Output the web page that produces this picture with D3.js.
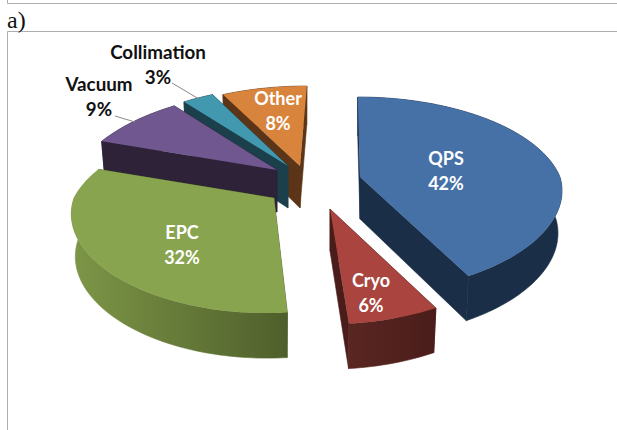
<!DOCTYPE html>
<html><head><meta charset="utf-8">
<script src="https://cdn.jsdelivr.net/npm/d3@7"></script>
<style>html,body{margin:0;padding:0;background:#fff}svg{display:block}</style>
</head><body><svg id="c" width="617" height="430"></svg>
<script>
const categories = ["QPS","Cryo","EPC","Vacuum","Collimation","Other"];
const values = [42.2,6.4,31.6,8.9,2.9,8.0];
const topColors = ["#4571a7","#a9443f","#89a44e","#71578f","#4198af","#d9843d"];
const sideColors = ["#1b2e47","#4a1d1a","#4f5f2b","#2d2238","#1b3f4b","#5c3518"];
const wallStart = ["#1b2e47","#5a2622","#7d9647","#2d2238","#1b3f4b","#5c3518"];

// layout only
const apex = {QPS:[360,177],Cryo:[330,209],EPC:[274,198],Vacuum:[277,170],Collimation:[288,166],Other:[300,166]};
const labelAt = {QPS:[446,159],Cryo:[371,281],EPC:[182,233],Vacuum:[99,85],Collimation:[158,53],Other:[278,99]};
const paintOrder = ["Other","Collimation","Vacuum","EPC","QPS","Cryo"];
const RX = 200, RY = 94.4, K = 0.18, VX = 345, NEAR_SHIFT = 0.45, BOTTOM_INSET = 0.98;

const svg = d3.select("#c");
const defs = svg.append("defs");

// frame
const frame = svg.append("g").attr("stroke","#aeaeae").attr("fill","none");
frame.append("path").attr("d","M7.5,0V3.5H617");
frame.append("path").attr("d","M617,31.5H7.5V430");
svg.append("text").attr("x",7).attr("y",28).attr("font-family","Liberation Serif")
   .attr("font-size",24).attr("fill","#111").text("a)");

const pie = d3.pie().sort(null).value(d=>d.value).startAngle(0).endAngle(2*Math.PI);
const arcs = pie(categories.map((name,i)=>({name,value:values[i],i})));

function project(name,theta,r){
  const [ax,ay]=apex[name];
  const x=r*Math.sin(theta), z=r*Math.cos(theta), s=1/(1+K*z);
  const sx = z<0 ? Math.pow(s,0.75) : s;
  const shift = (ax-VX)*(s-1)*(z<0 ? NEAR_SHIFT : 1);
  return {x:ax+RX*x*sx+shift, y:ay-RY*z*s, z};
}
function depth(z){return 42-3*z;}
function lower(name,p){
  const [ax]=apex[name];
  return {x:ax+(p.x-ax)*BOTTOM_INSET, y:p.y+depth(p.z)};
}
const line=d3.line().x(d=>d.x).y(d=>d.y);
const byName=new Map(arcs.map(a=>[a.data.name,a]));

paintOrder.forEach(name=>{
  const a=byName.get(name), i=a.data.i;
  const g=svg.append("g").attr("class","slice");
  const n=Math.max(12,Math.round((a.endAngle-a.startAngle)*40));
  const rim=d3.range(n+1).map(k=>project(name,a.startAngle+(a.endAngle-a.startAngle)*k/n,1));
  const c=project(name,0,0);
  const rimLow=rim.map(p=>lower(name,p));
  const cLow=lower(name,c);
  // radial faces
  [[rim[0],lower(name,rim[0])],[rim[n],lower(name,rim[n])]].forEach(([p,q])=>{
    g.append("path").attr("d",line([c,p,q,cLow])+"Z").attr("fill",sideColors[i])
     .attr("stroke",sideColors[i]).attr("stroke-width",0.6);
  });
  // outer wall with horizontal gradient
  const xs=d3.extent(rim,d=>d.x);
  const id="w"+i;
  const gr=defs.append("linearGradient").attr("id",id).attr("gradientUnits","userSpaceOnUse")
    .attr("x1",xs[0]).attr("x2",xs[1]).attr("y1",0).attr("y2",0);
  gr.append("stop").attr("offset",0).attr("stop-color",wallStart[i]);
  gr.append("stop").attr("offset",1).attr("stop-color",sideColors[i]);
  g.append("path").attr("d",line(rim.concat(rimLow.slice().reverse()))+"Z").attr("fill",`url(#${id})`)
   .attr("stroke",`url(#${id})`).attr("stroke-width",0.6);
  // top
  g.append("path").attr("d",line([c].concat(rim))+"Z").attr("fill",topColors[i]);
});

// leader lines
const leaderData=[[[172,83],[199,99]],[[115,116],[135,122]]];
svg.append("g").selectAll("path").data(leaderData).join("path")
  .attr("d",d3.line()).attr("fill","none").attr("stroke","#8a8a8a").attr("stroke-width",1);

// labels
const inside=new Set(["QPS","Cryo","EPC","Other"]);
arcs.forEach(a=>{
  const name=a.data.name,[x,y]=labelAt[name];
  const t=svg.append("text").attr("text-anchor","middle").attr("font-family","Lato, 'Open Sans', sans-serif")
    .attr("font-weight",700).attr("font-size",name==="Collimation"||name==="Vacuum"?18.8:18).attr("fill",inside.has(name)?"#fff":"#111");
  t.append("tspan").attr("x",x).attr("y",y+6).text(name);
  t.append("tspan").attr("x",x).attr("y",y+31).text(Math.round(a.data.value)+"%");
});
</script></body></html>
